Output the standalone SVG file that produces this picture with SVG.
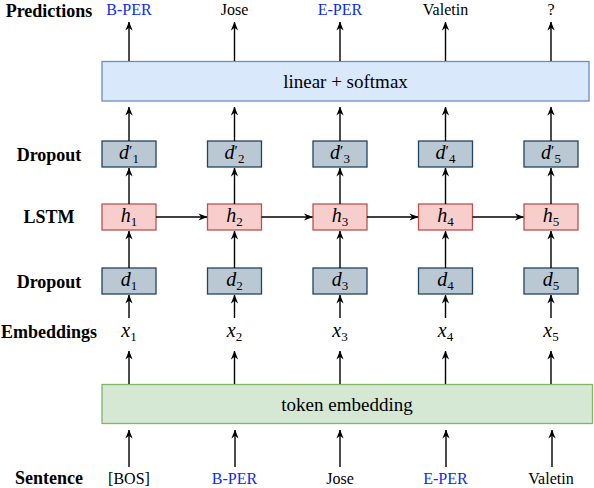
<svg xmlns="http://www.w3.org/2000/svg" width="594" height="488" viewBox="0 0 594 488">
<defs>
<marker id="ah" viewBox="0 0 10 8" refX="9.5" refY="4" markerWidth="9" markerHeight="8" orient="auto" markerUnits="userSpaceOnUse">
<path d="M0,0 L10,4 L0,8 L3,4 Z" fill="#000"/>
</marker>
<style>
text{font-family:"Liberation Serif","Times New Roman",serif;fill:#000}
.lbl{font-weight:bold;font-size:18px;text-anchor:middle}
.word{font-size:16px;text-anchor:middle}
.blue{fill:#0a2cf5}
.big{font-size:19px;text-anchor:middle}
.math{font-size:20px;text-anchor:middle}
.it{font-style:italic}
.sub{font-size:13px;font-style:normal}
.pr{font-size:15px;font-style:normal}
.dbox{fill:#bac8d3;stroke:#23445d;stroke-width:1.3}
.hbox{fill:#f8cecc;stroke:#b85450;stroke-width:1.3}
.lin{fill:#dae8fc;stroke:#6c8ebf;stroke-width:1.3}
.tok{fill:#d5e8d4;stroke:#82b366;stroke-width:1.3}
.arr{stroke:#000;stroke-width:1.4;fill:none;marker-end:url(#ah)}
</style>
</defs>
<rect width="594" height="488" fill="#fff"/>

<g id="row-labels">
<text class="lbl" x="49" y="17">Predictions</text>
<text class="lbl" x="49" y="161">Dropout</text>
<text class="lbl" x="49" y="223">LSTM</text>
<text class="lbl" x="49" y="288">Dropout</text>
<text class="lbl" x="49" y="338">Embeddings</text>
<text class="lbl" x="49" y="484">Sentence</text>
</g>

<g id="predictions">
<text class="word blue" x="129" y="15">B-PER</text>
<text class="word" x="234.5" y="15">Jose</text>
<text class="word blue" x="340" y="15">E-PER</text>
<text class="word" x="445.5" y="15">Valetin</text>
<text class="word" x="551" y="15">?</text>
</g>

<g id="linear-softmax">
<rect class="lin" x="102" y="61.5" width="487" height="39.5"/>
<text class="big" x="345.5" y="88">linear + softmax</text>
</g>

<g id="dropout-top">
<rect class="dbox" x="102" y="141" width="54" height="26"/>
<rect class="dbox" x="207.5" y="141" width="54" height="26"/>
<rect class="dbox" x="313" y="141" width="54" height="26"/>
<rect class="dbox" x="418.5" y="141" width="54" height="26"/>
<rect class="dbox" x="524" y="141" width="54" height="26"/>
<text class="math" x="129" y="159"><tspan class="it">d</tspan><tspan class="pr" dy="-3">′</tspan><tspan class="sub" dy="7">1</tspan></text>
<text class="math" x="234.5" y="159"><tspan class="it">d</tspan><tspan class="pr" dy="-3">′</tspan><tspan class="sub" dy="7">2</tspan></text>
<text class="math" x="340" y="159"><tspan class="it">d</tspan><tspan class="pr" dy="-3">′</tspan><tspan class="sub" dy="7">3</tspan></text>
<text class="math" x="445.5" y="159"><tspan class="it">d</tspan><tspan class="pr" dy="-3">′</tspan><tspan class="sub" dy="7">4</tspan></text>
<text class="math" x="551" y="159"><tspan class="it">d</tspan><tspan class="pr" dy="-3">′</tspan><tspan class="sub" dy="7">5</tspan></text>
</g>

<g id="lstm">
<rect class="hbox" x="102" y="204" width="54" height="26"/>
<rect class="hbox" x="207.5" y="204" width="54" height="26"/>
<rect class="hbox" x="313" y="204" width="54" height="26"/>
<rect class="hbox" x="418.5" y="204" width="54" height="26"/>
<rect class="hbox" x="524" y="204" width="54" height="26"/>
<text class="math" x="129" y="222"><tspan class="it">h</tspan><tspan class="sub" dy="4">1</tspan></text>
<text class="math" x="234.5" y="222"><tspan class="it">h</tspan><tspan class="sub" dy="4">2</tspan></text>
<text class="math" x="340" y="222"><tspan class="it">h</tspan><tspan class="sub" dy="4">3</tspan></text>
<text class="math" x="445.5" y="222"><tspan class="it">h</tspan><tspan class="sub" dy="4">4</tspan></text>
<text class="math" x="551" y="222"><tspan class="it">h</tspan><tspan class="sub" dy="4">5</tspan></text>
</g>

<g id="dropout-bottom">
<rect class="dbox" x="102" y="268" width="54" height="26"/>
<rect class="dbox" x="207.5" y="268" width="54" height="26"/>
<rect class="dbox" x="313" y="268" width="54" height="26"/>
<rect class="dbox" x="418.5" y="268" width="54" height="26"/>
<rect class="dbox" x="524" y="268" width="54" height="26"/>
<text class="math" x="129" y="286"><tspan class="it">d</tspan><tspan class="sub" dy="4">1</tspan></text>
<text class="math" x="234.5" y="286"><tspan class="it">d</tspan><tspan class="sub" dy="4">2</tspan></text>
<text class="math" x="340" y="286"><tspan class="it">d</tspan><tspan class="sub" dy="4">3</tspan></text>
<text class="math" x="445.5" y="286"><tspan class="it">d</tspan><tspan class="sub" dy="4">4</tspan></text>
<text class="math" x="551" y="286"><tspan class="it">d</tspan><tspan class="sub" dy="4">5</tspan></text>
</g>

<g id="embeddings">
<text class="math" x="129" y="337"><tspan class="it">x</tspan><tspan class="sub" dy="4">1</tspan></text>
<text class="math" x="234.5" y="337"><tspan class="it">x</tspan><tspan class="sub" dy="4">2</tspan></text>
<text class="math" x="340" y="337"><tspan class="it">x</tspan><tspan class="sub" dy="4">3</tspan></text>
<text class="math" x="445.5" y="337"><tspan class="it">x</tspan><tspan class="sub" dy="4">4</tspan></text>
<text class="math" x="551" y="337"><tspan class="it">x</tspan><tspan class="sub" dy="4">5</tspan></text>
</g>

<g id="token-embedding">
<rect class="tok" x="102" y="384.5" width="490.5" height="39"/>
<text class="big" x="347" y="411">token embedding</text>
</g>

<g id="sentence">
<text class="word" x="129" y="484">[BOS]</text>
<text class="word blue" x="234.5" y="484">B-PER</text>
<text class="word" x="340" y="484">Jose</text>
<text class="word blue" x="445.5" y="484">E-PER</text>
<text class="word" x="551" y="484">Valetin</text>
</g>

<g id="connectors">
<path class="arr" d="M129,61 V22"/><path class="arr" d="M234.5,61 V22"/><path class="arr" d="M340,61 V22"/><path class="arr" d="M445.5,61 V22"/><path class="arr" d="M551,61 V22"/>
<path class="arr" d="M129,141 V107"/><path class="arr" d="M234.5,141 V107"/><path class="arr" d="M340,141 V107"/><path class="arr" d="M445.5,141 V107"/><path class="arr" d="M551,141 V107"/>
<path class="arr" d="M129,204 V168"/><path class="arr" d="M234.5,204 V168"/><path class="arr" d="M340,204 V168"/><path class="arr" d="M445.5,204 V168"/><path class="arr" d="M551,204 V168"/>
<path class="arr" d="M129,268 V231"/><path class="arr" d="M234.5,268 V231"/><path class="arr" d="M340,268 V231"/><path class="arr" d="M445.5,268 V231"/><path class="arr" d="M551,268 V231"/>
<path class="arr" d="M129,318 V295"/><path class="arr" d="M234.5,318 V295"/><path class="arr" d="M340,318 V295"/><path class="arr" d="M445.5,318 V295"/><path class="arr" d="M551,318 V295"/>
<path class="arr" d="M129,384 V351"/><path class="arr" d="M234.5,384 V351"/><path class="arr" d="M340,384 V351"/><path class="arr" d="M445.5,384 V351"/><path class="arr" d="M551,384 V351"/>
<path class="arr" d="M129,467 V430"/><path class="arr" d="M235,467 V430"/><path class="arr" d="M340,467 V430"/><path class="arr" d="M446,467 V430"/><path class="arr" d="M552,467 V430"/>
<path class="arr" d="M156,217 H207"/><path class="arr" d="M261.5,217 H312.5"/><path class="arr" d="M367,217 H418"/><path class="arr" d="M472.5,217 H523.5"/>
</g>
</svg>
